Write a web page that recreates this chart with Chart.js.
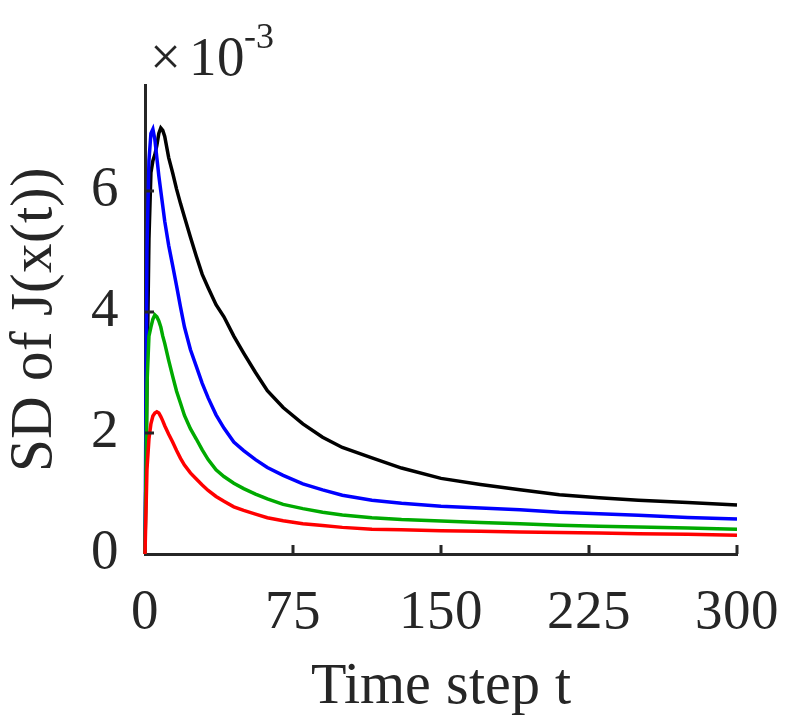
<!DOCTYPE html>
<html>
<head>
<meta charset="utf-8">
<title>SD of J(x(t))</title>
<script src="https://cdn.jsdelivr.net/npm/chart.js@4.4.1/dist/chart.umd.min.js"></script>
<style>
    @font-face {
        font-family: 'PlotSerif';
        src: local('Liberation Serif'), local('LiberationSerif'), local('LiberationSerif-Regular'), local('Liberation Serif Regular');
    }
    html, body { margin: 0; padding: 0; background: #fff; }
    #wrap { width: 789px; height: 723px; }
</style>
</head>
<body>
<div id="wrap"><canvas id="sdChart" width="789" height="723"></canvas></div>
<script>
// values are in units of 1e-3 (the axis shows x10^-3)
const timeSteps = [0, 1, 2, 3, 4, 5, 6, 7, 8, 9, 10, 12, 14, 16, 18, 20, 23, 26, 29, 32, 36, 40, 45, 50, 56, 62, 70, 80, 90, 100, 115, 130, 150, 170, 190, 210, 230, 250, 275, 300];

const sdBlack = [0, 2.8, 5.2, 6.3, 6.5, 6.6, 6.75, 6.95, 7.04, 7.0, 6.9, 6.55, 6.3, 6.03, 5.79, 5.57, 5.24, 4.92, 4.62, 4.4, 4.12, 3.92, 3.6, 3.32, 3.0, 2.7, 2.42, 2.15, 1.93, 1.76, 1.59, 1.42, 1.25, 1.15, 1.06, 0.98, 0.93, 0.89, 0.85, 0.81];
const sdBlue  = [0, 5.0, 6.5, 6.95, 7.02, 6.85, 6.55, 6.25, 6.0, 5.75, 5.5, 5.1, 4.77, 4.43, 4.08, 3.75, 3.38, 3.1, 2.82, 2.58, 2.3, 2.08, 1.85, 1.71, 1.56, 1.43, 1.3, 1.16, 1.06, 0.97, 0.89, 0.84, 0.79, 0.76, 0.73, 0.69, 0.665, 0.64, 0.605, 0.58];
const sdGreen = [0, 2.8, 3.6, 3.75, 3.88, 3.95, 3.92, 3.85, 3.75, 3.6, 3.48, 3.2, 2.94, 2.69, 2.49, 2.29, 2.07, 1.9, 1.72, 1.56, 1.39, 1.28, 1.17, 1.08, 0.99, 0.91, 0.82, 0.75, 0.69, 0.645, 0.6, 0.57, 0.545, 0.52, 0.5, 0.475, 0.46, 0.445, 0.43, 0.41];
const sdRed   = [0, 1.4, 1.9, 2.15, 2.28, 2.33, 2.35, 2.33, 2.27, 2.2, 2.12, 1.98, 1.85, 1.71, 1.58, 1.47, 1.34, 1.24, 1.14, 1.05, 0.95, 0.87, 0.78, 0.72, 0.66, 0.6, 0.55, 0.5, 0.47, 0.44, 0.41, 0.4, 0.385, 0.375, 0.365, 0.355, 0.345, 0.335, 0.325, 0.31];

const xTicks = [0, 75, 150, 225, 300];
const yTicks = [0, 2, 4, 6];

const axisColor = '#262626';
const serif = 'PlotSerif, "Liberation Serif", "DejaVu Serif", serif';

function toPoints(values) {
    return timeSteps.map((t, i) => ({ x: t, y: values[i] }));
}

function makeSet(label, values, color, order) {
    return {
        label: label,
        data: toPoints(values),
        borderColor: color,
        borderWidth: 3.5,
        pointRadius: 0,
        tension: 0,
        fill: false,
        clip: false,
        order: order
    };
}

// MATLAB style: ticks drawn inward, plus the x10^-3 exponent label
const matlabAxes = {
    id: 'matlabAxes',
    afterDraw(chart) {
        const { ctx, chartArea, scales } = chart;
        const len = 9;
        ctx.save();
        ctx.strokeStyle = axisColor;
        ctx.lineWidth = 3;
        ctx.beginPath();
        xTicks.forEach(v => {
            if (v === 0) return;
            const px = scales.x.getPixelForValue(v);
            ctx.moveTo(px, chartArea.bottom);
            ctx.lineTo(px, chartArea.bottom - len);
        });
        yTicks.forEach(v => {
            if (v === 0) return;
            const py = scales.y.getPixelForValue(v);
            ctx.moveTo(chartArea.left, py);
            ctx.lineTo(chartArea.left + len, py);
        });
        ctx.stroke();

        ctx.fillStyle = axisColor;
        ctx.textBaseline = 'alphabetic';
        ctx.textAlign = 'left';
        ctx.font = '55px ' + serif;
        ctx.fillText('\u00d7', chartArea.left + 5, 75);
        ctx.fillText('10', chartArea.left + 44, 75);
        ctx.font = '36px ' + serif;
        ctx.fillText('-3', chartArea.left + 99, 48);
        ctx.restore();
    }
};

function drawChart() {
    const ctx = document.getElementById('sdChart').getContext('2d');

    new Chart(ctx, {
        type: 'line',
        data: {
            datasets: [
                makeSet('black', sdBlack, '#000000', 4),
                makeSet('blue', sdBlue, '#0000ff', 3),
                makeSet('green', sdGreen, '#00aa00', 2),
                makeSet('red', sdRed, '#ff0000', 1)
            ]
        },
        options: {
            responsive: false,
            animation: false,
            devicePixelRatio: 1,
            layout: { padding: { top: 85, right: 52, left: 0, bottom: 0 } },
            plugins: {
                legend: { display: false },
                tooltip: { enabled: false }
            },
            scales: {
                x: {
                    type: 'linear',
                    min: 0,
                    max: 300,
                    afterBuildTicks: (scale) => { scale.ticks = xTicks.map(v => ({ value: v })); },
                    afterFit: (scale) => {
                        scale.height = 169;
                        scale.paddingLeft = 0;
                        scale.paddingRight = 0;
                    },
                    grid: { display: false, drawTicks: false },
                    border: { display: true, color: axisColor, width: 3 },
                    ticks: {
                        color: axisColor,
                        font: { family: serif, size: 55 },
                        padding: 27,
                        maxRotation: 0,
                        autoSkip: false
                    },
                    title: {
                        display: true,
                        text: 'Time step t',
                        color: axisColor,
                        font: { family: serif, size: 58 },
                        padding: 0
                    }
                },
                y: {
                    type: 'linear',
                    min: 0,
                    max: 7.75,
                    afterBuildTicks: (scale) => { scale.ticks = yTicks.map(v => ({ value: v })); },
                    afterFit: (scale) => {
                        scale.width = 145;
                        scale.paddingTop = 0;
                        scale.paddingBottom = 0;
                    },
                    grid: { display: false, drawTicks: false },
                    border: { display: true, color: axisColor, width: 3 },
                    ticks: {
                        color: axisColor,
                        font: { family: serif, size: 55 },
                        padding: 26,
                        autoSkip: false
                    },
                    title: {
                        display: true,
                        text: 'SD of J(x(t))',
                        color: axisColor,
                        font: { family: serif, size: 59 },
                        padding: 0
                    }
                }
            }
        },
        plugins: [matlabAxes]
    });
}

// make sure the serif face is ready before the canvas text is drawn
document.fonts.load('55px PlotSerif').then(drawChart, drawChart);
</script>
</body>
</html>
